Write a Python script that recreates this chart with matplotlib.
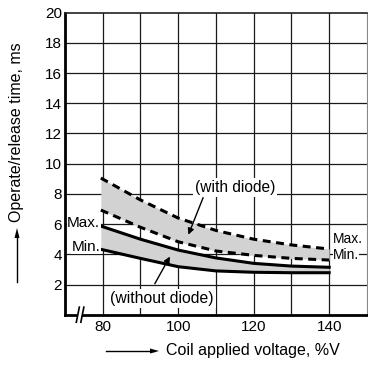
import matplotlib
matplotlib.use("Agg")
import matplotlib.pyplot as plt
from matplotlib.lines import Line2D
from matplotlib.patches import Polygon

plt.rcParams['font.family'] = ['Liberation Sans', 'DejaVu Sans']

# ---- data ----
voltage = [79.5, 90, 100, 110, 120, 130, 140]
with_diode_max = [9.05, 7.6, 6.4, 5.58, 5.0, 4.62, 4.35]
with_diode_min = [6.93, 5.79, 4.83, 4.22, 3.93, 3.73, 3.62]
without_diode_max = [5.87, 5.0, 4.28, 3.76, 3.40, 3.22, 3.14]
without_diode_min = [4.33, 3.73, 3.18, 2.9, 2.81, 2.78, 2.78]
xticks = [80, 100, 120, 140]
yticks = [2, 4, 6, 8, 10, 12, 14, 16, 18, 20]

FS = 11
LFS = 11.5

fig = plt.figure(figsize=(3.68, 3.67), dpi=100)
ax = fig.add_axes([0.1766, 0.1425, 0.8204, 0.8229])
ax.set_xlim(70, 150)
ax.set_ylim(0, 20)

for gx in range(80, 150, 10):
    ax.axvline(gx, color='#1a1a1a', lw=0.9, zorder=1)
for gy in yticks[:-1]:
    ax.axhline(gy, color='#1a1a1a', lw=0.9, zorder=1)

fill_c = '#d2d2d2'
ax.fill_between(voltage, with_diode_min, with_diode_max, color=fill_c, lw=0, zorder=2)
ax.fill_between(voltage, without_diode_min, without_diode_max, color=fill_c, lw=0, zorder=2)

ax.plot(voltage, with_diode_max, color='k', lw=2.2, ls=(0, (2.6, 1.8)), zorder=4)
ax.plot(voltage, with_diode_min, color='k', lw=2.2, ls=(0, (2.6, 1.8)), zorder=4)
ax.plot(voltage, without_diode_max, color='k', lw=2.2, zorder=4)
ax.plot(voltage, without_diode_min, color='k', lw=2.2, zorder=4)

ax.set_xticks(xticks)
ax.set_yticks(yticks)
ax.tick_params(axis='both', length=0, labelsize=FS, colors='k')
ax.tick_params(axis='x', pad=4)
ax.tick_params(axis='y', pad=2)

for s in ['left', 'bottom']:
    ax.spines[s].set_linewidth(2.0)
    ax.spines[s].set_color('k')
ax.spines['top'].set_linewidth(1.2)
ax.spines['top'].set_color('#222222')
ax.spines['right'].set_linewidth(0.8)
ax.spines['right'].set_color('#888888')

wb = dict(facecolor='white', edgecolor='none', pad=0.3)
ax.text(79.3, 6.05, 'Max.', ha='right', va='center', fontsize=FS, bbox=wb, zorder=5)
ax.text(79.3, 4.5, 'Min.', ha='right', va='center', fontsize=FS, bbox=wb, zorder=5)
ax.text(141.0, 4.72, 'Max.', ha='left', va='baseline', fontsize=10, bbox=wb, zorder=5)
ax.text(141.0, 3.72, 'Min.', ha='left', va='baseline', fontsize=10, bbox=wb, zorder=6)

ap = dict(arrowstyle='-|>', color='k', lw=1.0, mutation_scale=9, shrinkA=0, shrinkB=0)
ax.text(115, 8.45, '(with diode)', ha='center', va='center', fontsize=11.2,
        bbox=dict(facecolor='white', edgecolor='none', pad=1.5), zorder=5)
ax.annotate('', xy=(102.7, 5.3), xytext=(106.6, 7.75), arrowprops=ap, zorder=6)
ax.text(95.7, 1.1, '(without diode)', ha='center', va='center', fontsize=11.3,
        bbox=dict(facecolor='white', edgecolor='none', pad=1.5), zorder=5)
ax.annotate('', xy=(97.8, 3.85), xytext=(93.8, 2.05), arrowprops=ap, zorder=6)

# axis break mark on x-axis
bx = 74.0
brk = Polygon([[bx - 0.9, -0.45], [bx - 0.1, 0.45], [bx + 0.9, 0.45], [bx + 0.1, -0.45]],
              closed=True, facecolor='white', edgecolor='none', clip_on=False, zorder=7)
ax.add_patch(brk)
ax.plot([bx - 1.0, bx - 0.2], [-0.5, 0.5], color='k', lw=1.2, clip_on=False, zorder=8)
ax.plot([bx + 0.2, bx + 1.0], [-0.5, 0.5], color='k', lw=1.2, clip_on=False, zorder=8)

# axis labels with arrows
fig.text(17 / 368, 1 - 132 / 367, 'Operate/release time, ms', rotation=90,
         ha='center', va='center', fontsize=LFS)
fig.add_artist(Line2D([17 / 368, 17 / 368], [1 - 282 / 367, 1 - 234 / 367], color='k', lw=1.0))
fig.patches.append(Polygon([[14.5 / 368, 1 - 238 / 367], [19.5 / 368, 1 - 238 / 367],
                            [17 / 368, 1 - 228 / 367]], closed=True, transform=fig.transFigure,
                           facecolor='k', edgecolor='none', figure=fig))

fig.text(166 / 368, 1 - 351 / 367, 'Coil applied voltage, %V', ha='left', va='center', fontsize=LFS)
fig.add_artist(Line2D([106 / 368, 154 / 368], [1 - 351 / 367, 1 - 351 / 367], color='k', lw=1.0))
fig.patches.append(Polygon([[150 / 368, 1 - 348.5 / 367], [150 / 368, 1 - 353.5 / 367],
                            [159 / 368, 1 - 351 / 367]], closed=True, transform=fig.transFigure,
                           facecolor='k', edgecolor='none', figure=fig))

fig.savefig('out.png', dpi=100)
